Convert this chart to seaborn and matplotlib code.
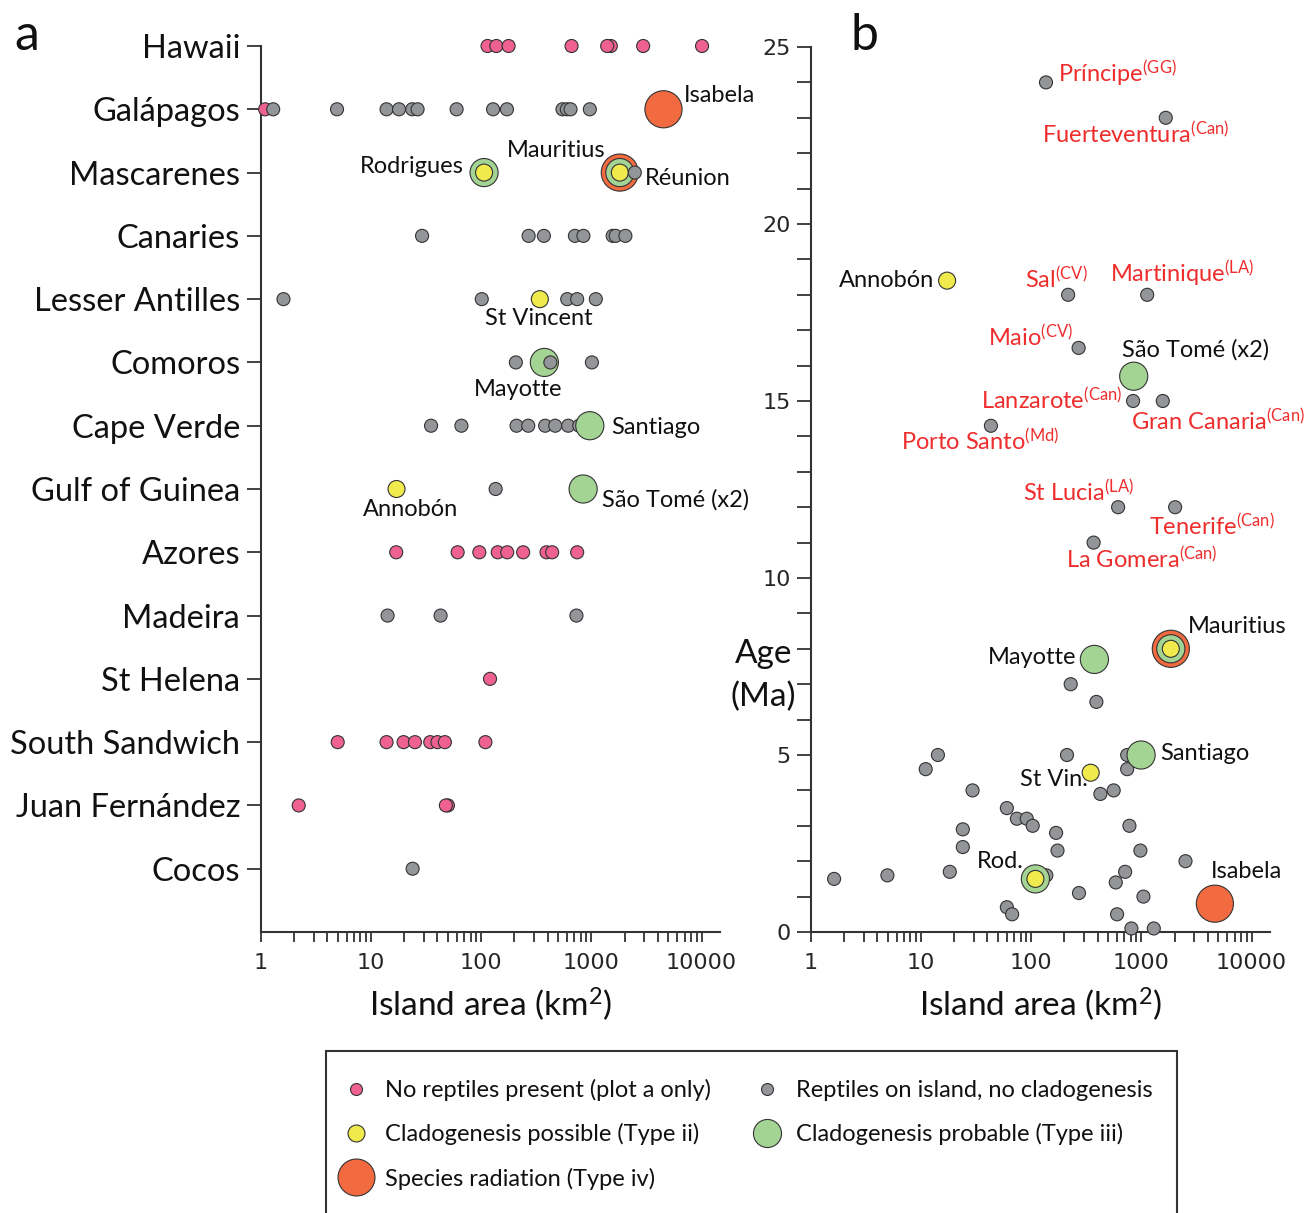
import numpy as np
import pandas as pd
import matplotlib
matplotlib.use("Agg")
import matplotlib.pyplot as plt
import seaborn as sns
from matplotlib.lines import Line2D
from matplotlib.patches import Rectangle
from matplotlib.ticker import LogLocator, NullFormatter, MultipleLocator

# ---------------- data ----------------
regions = ["Hawaii", "Galápagos", "Mascarenes", "Canaries", "Lesser Antilles",
           "Comoros", "Cape Verde", "Gulf of Guinea", "Azores", "Madeira",
           "St Helena", "South Sandwich", "Juan Fernández", "Cocos"]

# panel a: region, island area (km2), status
a_region = (["Hawaii"] * 8
            + ["Galápagos"] * 15
            + ["Mascarenes"] * 6
            + ["Canaries"] * 8
            + ["Lesser Antilles"] * 6
            + ["Comoros"] * 4
            + ["Cape Verde"] * 9
            + ["Gulf of Guinea"] * 3
            + ["Azores"] * 9
            + ["Madeira"] * 3
            + ["St Helena"] * 1
            + ["South Sandwich"] * 8
            + ["Juan Fernández"] * 3
            + ["Cocos"] * 1)
a_area = ([114, 137, 177, 660, 1500, 1390, 2950, 10100]
          + [1.09, 1.29, 4.9, 13.8, 17.9, 23.6, 26.4, 59.7, 128, 171, 546, 598, 646, 967, 4510]
          + [106, 106, 1811, 1811, 1811, 2477]
          + [29, 269, 370, 708, 846, 1560, 1660, 2034]
          + [1.6, 101, 603, 742, 1096, 340]
          + [206, 374, 424, 1010]
          + [35, 66, 209, 267, 380, 469, 615, 774, 967]
          + [17, 135, 841]
          + [16.9, 61, 96, 141, 172, 240, 391, 440, 742]
          + [14.1, 42.7, 731]
          + [120]
          + [4.97, 13.8, 19.7, 25, 34.4, 40, 46.7, 109]
          + [2.2, 49.8, 47.7]
          + [23.8])
a_type = (["none"] * 8
          + ["none"] + ["grey"] * 13 + ["iv"]
          + ["iii", "ii", "iv", "iii", "ii", "grey"]
          + ["grey"] * 8
          + ["grey"] * 5 + ["ii"]
          + ["grey", "iii", "grey", "grey"]
          + ["grey"] * 8 + ["iii"]
          + ["ii", "grey", "iii"]
          + ["none"] * 9
          + ["grey"] * 3
          + ["none"]
          + ["none"] * 8
          + ["none"] * 3
          + ["grey"])

# panel b: island area (km2), age (Ma), status
b_area = [136, 1663, 216, 1128, 269, 840, 1563, 43, 614, 2023, 368,
          228, 390, 742, 211, 14.2, 11, 742, 29.3, 424, 560, 60, 74, 91, 103,
          778, 23.9, 168, 23.9, 173, 979, 2512, 1.62, 4.94, 18.2, 137, 711,
          585, 271, 1043, 60, 67, 601, 811, 1295,
          1849, 4645,
          851, 374, 993, 109, 1849,
          17.2, 346, 109, 1849]
b_age = [24.0, 23.0, 18.0, 18.0, 16.5, 15.0, 15.0, 14.3, 12.0, 12.0, 11.0,
         7.0, 6.5, 5.0, 5.0, 5.0, 4.6, 4.6, 4.0, 3.9, 4.0, 3.5, 3.2, 3.2, 3.0,
         3.0, 2.9, 2.8, 2.4, 2.3, 2.3, 2.0, 1.5, 1.6, 1.7, 1.6, 1.7,
         1.4, 1.1, 1.0, 0.7, 0.5, 0.5, 0.1, 0.1,
         8.0, 0.8,
         15.7, 7.7, 5.0, 1.5, 8.0,
         18.4, 4.5, 1.5, 8.0]
b_type = (["grey"] * 45 + ["iv"] * 2 + ["iii"] * 5 + ["ii"] * 4)

# labels
a_lab_text = ["Isabela", "Mauritius", "Rodrigues", "Réunion", "St Vincent",
              "Mayotte", "Santiago", "Annobón", "São Tomé (x2)"]
a_lab_region = ["Galápagos", "Mascarenes", "Mascarenes", "Mascarenes",
                "Lesser Antilles", "Comoros", "Cape Verde", "Gulf of Guinea",
                "Gulf of Guinea"]
a_lab_area = [4510, 1811, 106, 2477, 340, 374, 967, 17, 841]

b_lab_text = [r"Príncipe$^{\mathregular{(GG)}}$", r"Fuerteventura$^{\mathregular{(Can)}}$",
              "Annobón", r"Sal$^{\mathregular{(CV)}}$", r"Martinique$^{\mathregular{(LA)}}$",
              r"Maio$^{\mathregular{(CV)}}$", "São Tomé (x2)", r"Lanzarote$^{\mathregular{(Can)}}$",
              r"Gran Canaria$^{\mathregular{(Can)}}$", r"Porto Santo$^{\mathregular{(Md)}}$",
              r"St Lucia$^{\mathregular{(LA)}}$", r"Tenerife$^{\mathregular{(Can)}}$",
              r"La Gomera$^{\mathregular{(Can)}}$", "Mauritius", "Mayotte", "Santiago",
              "St Vin.", "Rod.", "Isabela"]
b_lab_area = [136, 1663, 17.2, 216, 1128, 269, 851, 840, 1563, 43, 614, 2023,
              368, 1849, 374, 993, 346, 109, 4645]
b_lab_age = [24.0, 23.0, 18.4, 18.0, 18.0, 16.5, 15.7, 15.0, 15.0, 14.3, 12.0,
             12.0, 11.0, 8.0, 7.7, 5.0, 4.5, 1.5, 0.8]
b_lab_red = [True, True, False, True, True, True, False, True, True, True, True,
             True, True, False, False, False, False, False, False]

legend_labels = {"none": "No reptiles present (plot a only)",
                 "ii": "Cladogenesis possible (Type ii)",
                 "iv": "Species radiation (Type iv)",
                 "grey": "Reptiles on island, no cladogenesis",
                 "iii": "Cladogenesis probable (Type iii)"}

# ---------------- style ----------------
sns.set_theme(style="ticks")
plt.rcParams["font.family"] = ["Lato", "DejaVu Sans"]
plt.rcParams["mathtext.fontset"] = "custom"
plt.rcParams["mathtext.rm"] = "Lato"
plt.rcParams["mathtext.it"] = "Lato:italic"
plt.rcParams["mathtext.bf"] = "Lato:bold"

palette = {"none": "#EE6190", "grey": "#939598", "ii": "#F0EA4C",
           "iii": "#A4D494", "iv": "#F26A3F"}
sizes = {"none": 88, "grey": 88, "ii": 150, "iii": 410, "iv": 715}
EDGE = "#333333"
SPINE = "#333333"
RED = "#EE2D2D"
W, H = 1309, 1213

a_lab_off = [(20, 14, "left"), (-14, 22, "right"), (-20, 6, "right"), (10, -6, "left"),
             (-1, -19, "center"), (-26, -27, "center"), (21, -2, "left"),
             (14, -21, "center"), (19, -11, "left")]
b_lab_off = [(12, 9, "left"), (-30, -17, "center"), (-13, 0, "right"), (-12, 15, "center"),
             (35, 21, "center"), (-5, 10, "right"), (62, 26, "center"), (-11, 0, "right"),
             (142, -21, "right"), (-11, -16, "center"), (16, 15, "right"), (37, -19, "center"),
             (48, -17, "center"), (17, 22, "left"), (-18, 2, "right"), (19, 1, "left"),
             (-3, -7, "right"), (-12, 17, "right"), (-4, 32, "left")]

fig = plt.figure(figsize=(W / 100, H / 100), dpi=100)
fig.patch.set_facecolor("white")

def px_axes(l, t, r, b):
    return fig.add_axes([l / W, 1 - b / H, (r - l) / W, (b - t) / H])

ax_a = px_axes(261, 46, 720, 932)
ax_b = px_axes(811, 47, 1270, 932)

df_a = pd.DataFrame({"area": a_area, "type": a_type,
                     "pos": [regions.index(r) for r in a_region]})
df_b = pd.DataFrame({"area": b_area, "age": b_age, "type": b_type})

for ax in (ax_a, ax_b):
    ax.set_xscale("log")

sns.scatterplot(data=df_a, x="area", y="pos", hue="type", size="type",
                palette=palette, sizes=sizes, edgecolor=EDGE, linewidth=0.8,
                legend=False, ax=ax_a, zorder=3, clip_on=False)
sns.scatterplot(data=df_b, x="area", y="age", hue="type", size="type",
                palette=palette, sizes=sizes, edgecolor=EDGE, linewidth=0.8,
                legend=False, ax=ax_b, zorder=3, clip_on=False)

XMAX = 14700
tick_font = dict(family="DejaVu Sans", size=16)
for ax in (ax_a, ax_b):
    ax.set_xlim(1, XMAX)
    ax.set_xticks([1, 10, 100, 1000, 10000])
    ax.set_xticklabels(["1", "10", "100", "1000", "10000"], fontdict=tick_font)
    ax.xaxis.set_minor_locator(LogLocator(base=10, subs=np.arange(2, 10), numticks=20))
    ax.xaxis.set_minor_formatter(NullFormatter())
    ax.tick_params(axis="x", which="both", length=7, width=1.3, color=SPINE,
                   direction="out", pad=8)
    for s in ("top", "right"):
        ax.spines[s].set_visible(False)
    for s in ("left", "bottom"):
        ax.spines[s].set_color(SPINE)
        ax.spines[s].set_linewidth(1.5)
    ax.set_facecolor("white")
    ax.set_xlabel(r"Island area (km$^{\mathregular{2}}$)", fontsize=24, labelpad=9,
                  color="#111111")

# panel a y axis
ax_a.set_ylim(14, 0)
ax_a.set_yticks(range(len(regions)))
ax_a.set_yticklabels(regions, fontsize=23.5, color="#111111")
ax_a.tick_params(axis="y", length=10, width=1.3, color=SPINE, pad=5)
ax_a.set_ylabel("")

# panel b y axis
ax_b.set_ylim(0, 25)
ax_b.set_yticks([0, 5, 10, 15, 20, 25])
ax_b.set_yticklabels(["0", "5", "10", "15", "20", "25"], fontdict=tick_font)
ax_b.yaxis.set_minor_locator(MultipleLocator(1))
ax_b.tick_params(axis="y", which="both", length=10, width=1.3, color=SPINE, pad=4.5)
ax_b.set_ylabel("")
ax_b.text(-0.104, 0.29, "Age\n(Ma)", transform=ax_b.transAxes, ha="center",
          va="center", fontsize=24, linespacing=1.5, color="#111111")

# labels panel a
for txt, reg, ar, (dx, dy, ha) in zip(a_lab_text, a_lab_region, a_lab_area, a_lab_off):
    ax_a.annotate(txt, (ar, regions.index(reg)), xytext=(dx, dy),
                  textcoords="offset pixels", ha=ha, va="center", fontsize=17,
                  color="#111111", zorder=5)

# labels panel b
for txt, ar, ag, red, (dx, dy, ha) in zip(b_lab_text, b_lab_area, b_lab_age, b_lab_red, b_lab_off):
    ax_b.annotate(txt, (ar, ag), xytext=(dx, dy), textcoords="offset pixels",
                  ha=ha, va="center", fontsize=17,
                  color=RED if red else "#111111", zorder=5)

# panel letters
fig.text(14 / W, 1 - 50 / H, "a", fontsize=36, va="baseline", ha="left", color="#111111")
fig.text(851 / W, 1 - 50 / H, "b", fontsize=36, va="baseline", ha="left", color="#111111")

# legend
order = ["none", "ii", "iv", "grey", "iii"]
leg_ms = {"none": 8.6, "grey": 8.6, "ii": 12.2, "iii": 20.2, "iv": 26.6}
handles = [Line2D([], [], linestyle="none", marker="o", markersize=leg_ms[k],
                  markerfacecolor=palette[k], markeredgecolor=EDGE, markeredgewidth=0.8,
                  label=legend_labels[k]) for k in order]
leg = fig.legend(handles=handles, ncol=2, loc="upper left",
                 bbox_to_anchor=(344 / W, 1 - 1079 / H), frameon=False,
                 fontsize=17, handlelength=1.0, handletextpad=0.72,
                 columnspacing=1.9, labelspacing=0.94, borderpad=0,
                 borderaxespad=0)
for t in leg.get_texts():
    t.set_color("#111111")
fig.patches.append(Rectangle((326 / W, -0.05), (1177 - 326) / W, 0.05 + 1 - 1051 / H,
                             transform=fig.transFigure, fill=False,
                             edgecolor=SPINE, linewidth=1.5))

fig.savefig("out.png", dpi=100, facecolor="white")
